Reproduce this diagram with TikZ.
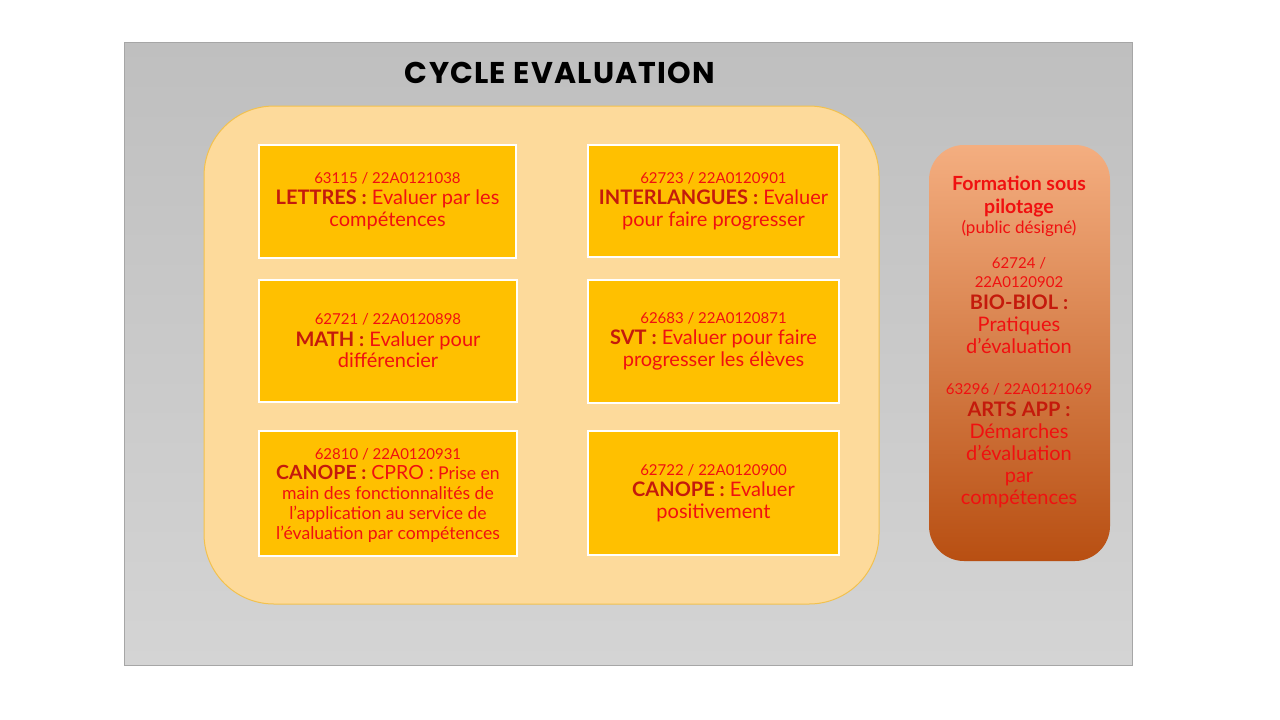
\documentclass[tikz,border=0pt]{standalone}
\usepackage{fontspec}
\setmainfont{Lato}
\newfontfamily\titlefont[LetterSpace=4]{Poppins}
\usetikzlibrary{shadings}
\definecolor{bgtop}{HTML}{BFBFBF}
\definecolor{bgbot}{HTML}{D4D4D4}
\definecolor{panelfill}{HTML}{FDDA9B}
\definecolor{panelline}{HTML}{F2C14E}
\definecolor{cardfill}{HTML}{FFC000}
\definecolor{txtred}{HTML}{F01010}
\definecolor{lblred}{HTML}{C41A0C}
\definecolor{ortop}{HTML}{F4AE80}
\definecolor{ormid}{HTML}{EE8A3E}
\definecolor{orbot}{HTML}{B84F12}
\newcommand\shd[1]{{\bfseries\color{lblred}#1}}
\tikzset{
  card/.style={draw=white, line width=2pt, fill=cardfill},
  cardtext/.style={text=txtred, align=center, font=\fontsize{20}{21.5}\selectfont},
}
\newcommand\num[1]{{\fontsize{15}{21.5}\selectfont #1}}
\begin{document}
\begin{tikzpicture}[x=1pt,y=-1pt]
\useasboundingbox (0,0) rectangle (1280,720);
\fill[white] (0,0) rectangle (1280,720);
\shade[top color=bgtop, bottom color=bgbot] (124,42) rectangle (1132,665);
\draw[gray!70] (124,42) rectangle (1132,665);
\node[font=\titlefont\bfseries\fontsize{30}{36}\selectfont, text=black] (title) at (560,73) {CYCLE EVALUATION};
\draw[fill=panelfill, draw=panelline, line width=1pt, rounded corners=70pt] (204,106) rectangle (879,604);
% cards
\draw[card] (259,145) rectangle (516,258);
\draw[card] (588,145) rectangle (839,257);
\draw[card] (259,280) rectangle (517,402);
\draw[card] (588,280) rectangle (839,403);
\draw[card] (259,431) rectangle (517,556);
\draw[card] (588,431) rectangle (839,555);
\node[cardtext] (c1) at (387.5,201) {\num{63115 / 22A0121038}\\\shd{LETTRES :} Evaluer par les\\compétences};
\node[cardtext] (c2) at (713.5,201) {\num{62723 / 22A0120901}\\\shd{INTERLANGUES :} Evaluer\\pour faire progresser};
\node[cardtext] (c3) at (388,341) {\num{62721 / 22A0120898}\\\shd{MATH :} Evaluer pour\\différencier};
\node[cardtext] (c4) at (713.5,341) {\num{62683 / 22A0120871}\\\shd{SVT :} Evaluer pour faire\\progresser les élèves};
\node[cardtext, font=\fontsize{17.6}{20}\selectfont] (c5) at (388,495) {\num{62810 / 22A0120931}\\{\fontsize{19.5}{20}\selectfont\shd{CANOPE :} CPRO :} Prise en\\main des fonctionnalités de\\l’application au service de\\l’évaluation par compétences};
\node[cardtext] (c6) at (713.5,493) {\num{62722 / 22A0120900}\\\shd{CANOPE :} Evaluer\\positivement};
% right panel
\shade[top color=ortop, middle color=ormid, bottom color=orbot, rounded corners=35pt] (929,145) rectangle (1110,561);
\node[text=txtred, align=center, font=\bfseries\fontsize{19.5}{23}\selectfont] (fs) at (1019,197) {Formation sous\\pilotage};
\node[text=txtred, font=\fontsize{17}{18}\selectfont] (pd) at (1019,228) {(public désigné)};
\node[text=txtred, align=center, font=\fontsize{20}{22}\selectfont] (bio) at (1019,306) {\num{62724 /}\\[-3pt]\num{22A0120902}\\\shd{BIO-BIOL :}\\Pratiques\\d’évaluation};
\node[text=txtred, align=center, font=\fontsize{20}{22}\selectfont] (arts) at (1019,446) {\num{63296 / 22A0121069}\\\shd{ARTS APP :}\\Démarches\\d’évaluation\\par\\compétences};
\end{tikzpicture}
\end{document}
